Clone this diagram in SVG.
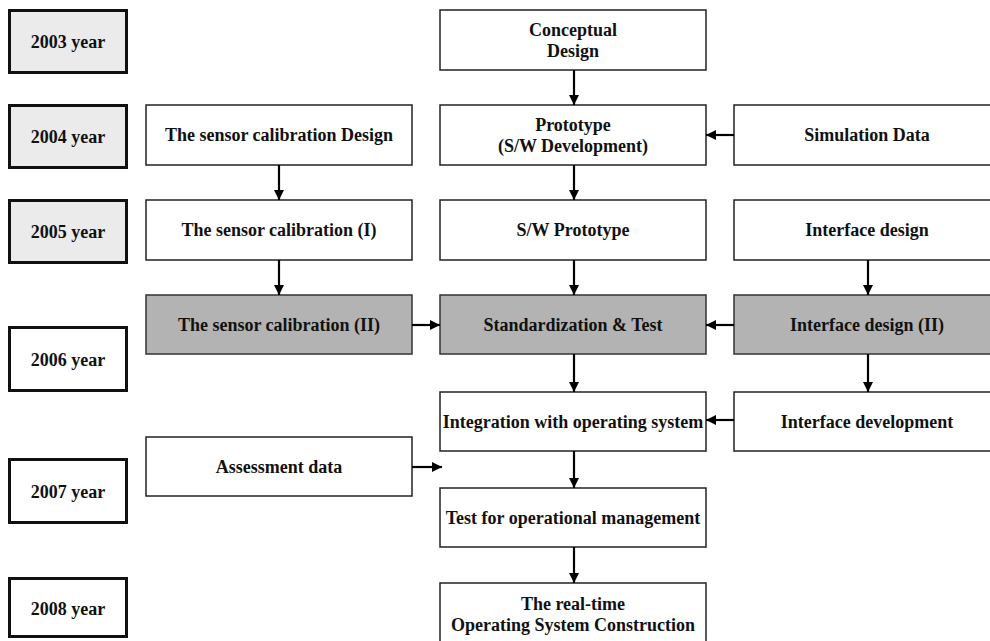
<svg xmlns="http://www.w3.org/2000/svg" width="990" height="641" viewBox="0 0 990 641">
<style>
.yr{fill:#ffffff;stroke:#111;stroke-width:3}
.yrg{fill:#ebebeb;stroke:#111;stroke-width:3}
.bx{fill:#ffffff;stroke:#222;stroke-width:1.5}
.bxg{fill:#b3b3b3;stroke:#333;stroke-width:1.5}
text{font-family:'Liberation Serif',serif;font-weight:bold;font-size:18px;fill:#111;text-anchor:middle}
.c line{stroke:#000;stroke-width:2.2;marker-end:url(#ah)}
</style>
<defs>
<marker id="ah" markerUnits="userSpaceOnUse" markerWidth="11" markerHeight="11" refX="10" refY="5" orient="auto">
<path d="M0,0 L10,5 L0,10 Z" fill="#000"/>
</marker>
</defs>
<rect width="990" height="641" fill="#fff"/>
<g id="y2003"><rect class="yrg" x="9.5" y="10.5" width="117" height="62"/><text x="68" y="48">2003 year</text></g>
<g id="y2004"><rect class="yrg" x="9.5" y="105.5" width="117" height="62"/><text x="68" y="143">2004 year</text></g>
<g id="y2005"><rect class="yrg" x="9.5" y="200.5" width="117" height="62"/><text x="68" y="238">2005 year</text></g>
<g id="y2006"><rect class="yr" x="9.5" y="327.5" width="117" height="63"/><text x="68" y="366">2006 year</text></g>
<g id="y2007"><rect class="yr" x="9.5" y="459.5" width="117" height="63"/><text x="68" y="498">2007 year</text></g>
<g id="y2008"><rect class="yr" x="9.5" y="578.5" width="117" height="58"/><text x="68" y="615">2008 year</text></g>

<g id="sensorDesign"><rect class="bx" x="146" y="105" width="266" height="60"/><text x="279" y="141">The sensor calibration Design</text></g>
<g id="sensor1"><rect class="bx" x="146" y="200" width="266" height="60"/><text x="279" y="236">The sensor calibration (I)</text></g>
<g id="sensor2"><rect class="bxg" x="146" y="295" width="266" height="59"/><text x="279" y="331">The sensor calibration (II)</text></g>
<g id="assessment"><rect class="bx" x="146" y="437" width="266" height="59"/><text x="279" y="473">Assessment data</text></g>

<g id="conceptual"><rect class="bx" x="440" y="10" width="266" height="60"/><text x="573" y="35.5">Conceptual</text><text x="573" y="56.5">Design</text></g>
<g id="prototype"><rect class="bx" x="440" y="105" width="266" height="60"/><text x="573" y="130.5">Prototype</text><text x="573" y="151.5">(S/W Development)</text></g>
<g id="swPrototype"><rect class="bx" x="440" y="200" width="266" height="60"/><text x="573" y="236">S/W Prototype</text></g>
<g id="standardization"><rect class="bxg" x="440" y="295" width="266" height="59"/><text x="573" y="331">Standardization &amp; Test</text></g>
<g id="integration"><rect class="bx" x="440" y="392" width="266" height="59"/><text x="573" y="428">Integration with operating system</text></g>
<g id="testOps"><rect class="bx" x="440" y="488" width="266" height="59"/><text x="573" y="524">Test for operational management</text></g>
<g id="realtime"><rect class="bx" x="440" y="583" width="266" height="65"/><text x="573" y="610">The real-time</text><text x="573" y="631">Operating System Construction</text></g>

<g id="simulation"><rect class="bx" x="734" y="105" width="262" height="60"/><text x="867" y="141">Simulation Data</text></g>
<g id="interface1"><rect class="bx" x="734" y="200" width="262" height="60"/><text x="867" y="236">Interface design</text></g>
<g id="interface2"><rect class="bxg" x="734" y="295" width="262" height="59"/><text x="867" y="331">Interface design (II)</text></g>
<g id="interfaceDev"><rect class="bx" x="734" y="392" width="262" height="59"/><text x="867" y="428">Interface development</text></g>

<g id="connectors" class="c">
<line x1="574" y1="70" x2="574" y2="105"/>
<line x1="574" y1="165" x2="574" y2="200"/>
<line x1="574" y1="260" x2="574" y2="295"/>
<line x1="574" y1="354" x2="574" y2="392"/>
<line x1="574" y1="451" x2="574" y2="488"/>
<line x1="574" y1="547" x2="574" y2="583"/>
<line x1="279" y1="165" x2="279" y2="200"/>
<line x1="279" y1="260" x2="279" y2="295"/>
<line x1="868" y1="260" x2="868" y2="295"/>
<line x1="868" y1="354" x2="868" y2="392"/>
<line x1="734" y1="135" x2="706" y2="135"/>
<line x1="412" y1="325" x2="440" y2="325"/>
<line x1="734" y1="325" x2="706" y2="325"/>
<line x1="734" y1="420" x2="706" y2="420"/>
<line x1="412" y1="467" x2="442" y2="467"/>
</g>
</svg>
